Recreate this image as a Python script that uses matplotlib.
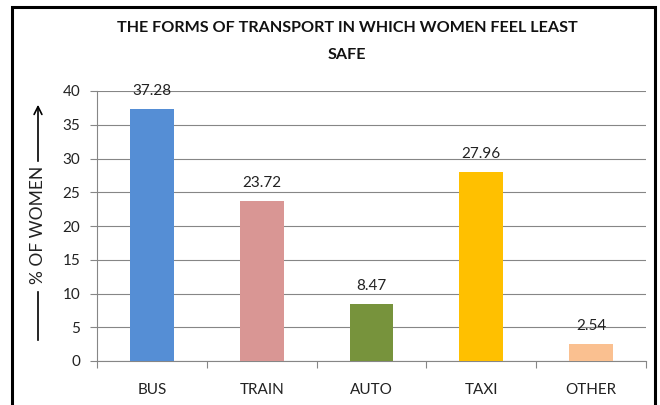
import matplotlib
matplotlib.use("Agg")
import matplotlib.pyplot as plt
from matplotlib.patches import Rectangle, FancyArrowPatch
from matplotlib.lines import Line2D

categories = ["BUS", "TRAIN", "AUTO", "TAXI", "OTHER"]
values = [37.28, 23.72, 8.47, 27.96, 2.54]
labels = ["37.28", "23.72", "8.47", "27.96", "2.54"]
colors = ["#558ED5", "#D99694", "#77933C", "#FFC000", "#FAC090"]
yticks = [0, 5, 10, 15, 20, 25, 30, 35, 40]

plt.rcParams['font.family'] = ['Lato', 'DejaVu Sans']

W, H = 660, 405
fig = plt.figure(figsize=(W / 100, H / 100), dpi=100)
fig.patch.set_facecolor("white")

def fx(px):
    return px / W

def fy(py):
    return 1 - py / H

ax = fig.add_axes([fx(97), fy(361), fx(646) - fx(97), fy(91) - fy(361)])
x = list(range(len(categories)))
ax.bar(x, values, width=0.40, color=colors, zorder=3)
ax.set_xlim(-0.5, len(categories) - 0.5)
ax.set_ylim(0, 40)
ax.set_yticks(yticks)
ax.set_yticklabels([str(t) for t in yticks], fontsize=11, color="#222222")
ax.set_xticks(x)
ax.set_xticklabels(categories, fontsize=11, color="#222222")
ax.tick_params(axis='x', length=0, pad=16)
ax.tick_params(axis='y', length=5, width=0.8, color="#868686", pad=7)
# category boundary ticks
ax.set_xticks([i - 0.5 for i in range(len(categories) + 1)], minor=True)
ax.tick_params(axis='x', which='minor', length=5, width=0.8, color="#868686")
ax.yaxis.grid(True, color="#868686", linewidth=0.8, zorder=0)
ax.set_axisbelow(True)
for s in ["top", "right"]:
    ax.spines[s].set_visible(False)
ax.spines["left"].set_color("#868686")
ax.spines["bottom"].set_color("#868686")
ax.spines["left"].set_linewidth(0.8)
ax.spines["bottom"].set_linewidth(0.8)

for xi, v, lab in zip(x, values, labels):
    ax.annotate(lab, (xi, v), xytext=(0, 8), textcoords="offset points",
                ha="center", va="bottom", fontsize=11, color="#222222", zorder=4)

fig.text(fx(347), fy(28), "THE FORMS OF TRANSPORT IN WHICH WOMEN FEEL LEAST",
         ha="center", va="center", fontsize=11.6, fontweight="bold", color="#111111")
fig.text(fx(347), fy(55), "SAFE",
         ha="center", va="center", fontsize=11.6, fontweight="bold", color="#111111")

# y label with arrow
fig.text(fx(38), fy(225), "% OF WOMEN", rotation=90, ha="center", va="center",
         fontsize=12.5, color="#222222")
fig.add_artist(Line2D([fx(38), fx(38)], [fy(340), fy(292)], color="black", lw=1.2))
fig.add_artist(FancyArrowPatch((fx(38), fy(164)), (fx(38), fy(102)),
                               transform=fig.transFigure, arrowstyle="->",
                               mutation_scale=14, color="black", lw=1.2))

# outer border
fig.add_artist(Rectangle((fx(12), fy(420)), fx(655) - fx(12), fy(7) - fy(420),
                         transform=fig.transFigure, fill=False,
                         edgecolor="black", linewidth=2.2, clip_on=False))

fig.savefig("out.png", dpi=100)
